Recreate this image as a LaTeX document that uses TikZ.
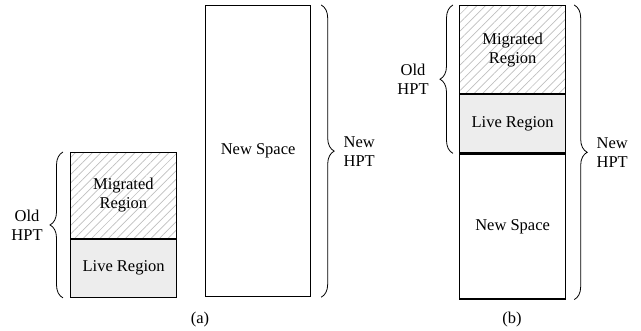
\documentclass[tikz,border=0pt]{standalone}
\usepackage{fontspec}
\setmainfont{Liberation Serif}
\usetikzlibrary{decorations.pathreplacing,patterns.meta,calc}
\begin{document}
\begin{tikzpicture}[x=1pt,y=1pt,
  every node/.style={font=\fontsize{16.5}{19}\selectfont},
  region/.style={draw, line width=1.2pt, anchor=north west, inner sep=0pt, align=center},
  migr/.style={region, pattern={Lines[angle=45,distance=6pt,line width=0.7pt]}, pattern color=black!25},
  live/.style={region, fill=black!7},
  bracestyle/.style={decorate, decoration={brace, amplitude=13pt}, line width=0.8pt},
  lab/.style={inner sep=0pt, align=center}]
\useasboundingbox (0,0) rectangle (641,330);
% (a)
\node[migr, minimum width=106pt, minimum height=86pt] (amig) at (70,178) {Migrated\\Region};
\node[live, minimum width=106pt, minimum height=58pt] (alive) at (amig.south west) {Live Region};
\node[region, minimum width=105pt, minimum height=291pt] (anew) at (205,325) {New Space};
\coordinate (aob) at ($(alive.south west)+(-7,0)$);
\coordinate (aot) at ($(amig.north west)+(-7,0)$);
\draw[bracestyle] (aob) -- (aot) node[lab, midway, left=20pt] (aoldlab) {Old\\HPT};
\coordinate (ant) at ($(anew.north east)+(10,0)$);
\coordinate (anb) at ($(anew.south east)+(10,0)$);
\draw[bracestyle] (ant) -- (anb) node[lab, midway, right=22pt] (anewlab) {New\\HPT};
\node[inner sep=0pt] (capa) at (200,10) {(a)};
% (b)
\node[migr, minimum width=106pt, minimum height=88pt] (bmig) at (459,325) {Migrated\\Region};
\node[live, minimum width=106pt, minimum height=58pt] (blive) at (bmig.south west) {Live Region};
\node[region, minimum width=106pt, minimum height=145pt] (bnew) at (blive.south west) {New Space};
\coordinate (bob) at ($(blive.south west)+(-6,0)$);
\coordinate (bot) at ($(bmig.north west)+(-6,0)$);
\draw[bracestyle] (bob) -- (bot) node[lab, midway, left=24pt] (boldlab) {Old\\HPT};
\coordinate (bnt) at ($(bmig.north east)+(8,0)$);
\coordinate (bnb) at ($(bnew.south east)+(8,0)$);
\draw[bracestyle] (bnt) -- (bnb) node[lab, midway, right=22pt] (bnewlab) {New\\HPT};
\node[inner sep=0pt] (capb) at (512,10) {(b)};
\end{tikzpicture}
\end{document}
